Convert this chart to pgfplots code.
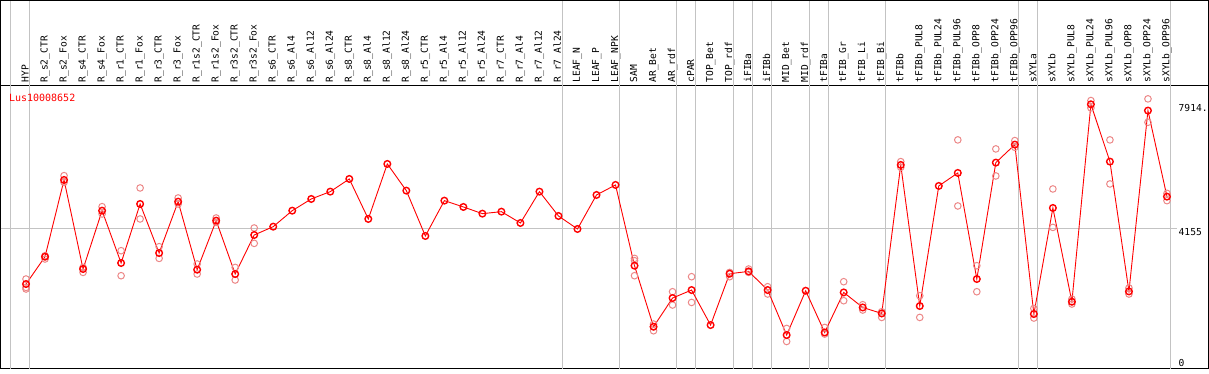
\documentclass[border=0pt]{standalone}
\usepackage{fontspec}
\setmainfont{DejaVu Sans Mono}
\usepackage{pgfplots}
\usepackage{pgfplotstable}
\pgfplotsset{compat=1.18}
\definecolor{repred}{RGB}{236,136,136}
\definecolor{gridgray}{RGB}{195,195,195}

\pgfplotstableread{
x y
0 2495
1 3319
2 5634
3 2948
4 4707
5 3129
6 4909
7 3431
8 4979
9 2927
10 4406
11 2797
12 3974
13 4225
14 4707
15 5060
16 5281
17 5664
18 4457
19 6116
20 5311
21 3944
22 5009
23 4819
24 4617
25 4677
26 4336
27 5281
28 4547
29 4155
30 5181
31 5483
32 3048
33 1207
34 2073
35 2314
36 1258
37 2806
38 2876
39 2314
40 957
41 2293
42 1035
43 2242
44 1789
45 1608
46 6086
47 1832
48 5453
49 5845
50 2646
51 6156
52 6699
53 1590
54 4789
55 1961
56 7914
57 6186
58 2272
59 7725
60 5130
}\means

\pgfplotstableread{
x y
0 2646
0 2393
0 2345
1 3349
1 3250
2 5763
2 5561
3 2996
3 2846
4 4828
4 4608
5 3500
5 2746
6 5392
6 4457
7 3621
7 3268
8 5090
8 4909
9 3099
9 2797
10 4487
10 4354
11 2996
11 2616
12 4185
12 3721
32 3268
32 3199
32 2746
33 1288
33 1086
34 2263
34 1862
35 2716
35 1940
37 2846
37 2716
38 2948
38 2846
39 2414
39 2194
40 1156
40 763
42 1186
42 987
43 2565
43 1992
44 1871
44 1711
45 1660
45 1488
46 6186
46 6014
47 2142
47 1488
49 6841
49 4849
50 3048
50 2263
51 6569
51 5754
52 6820
52 6617
53 1759
53 1470
54 5362
54 4203
55 2043
55 1892
56 8027
56 7806
57 6841
57 5513
58 2375
58 2194
59 8078
59 7372
60 5229
60 5009
}\reps

\begin{document}
\begin{tikzpicture}
\begin{axis}[
  scale only axis,
  width=1207pt, height=283pt,
  xmin=-1.342, xmax=62.184,
  ymin=-60.35, ymax=8479.2,
  axis line style={black, line width=1pt},
  clip=false,
  major tick length=0pt,
  xtick={0,...,60},
  xticklabel pos=upper,
  xticklabels={HYP,R\_s2\_CTR,R\_s2\_Fox,R\_s4\_CTR,R\_s4\_Fox,R\_r1\_CTR,R\_r1\_Fox,R\_r3\_CTR,R\_r3\_Fox,R\_r1s2\_CTR,R\_r1s2\_Fox,R\_r3s2\_CTR,R\_r3s2\_Fox,R\_s6\_CTR,R\_s6\_Al4,R\_s6\_Al12,R\_s6\_Al24,R\_s8\_CTR,R\_s8\_Al4,R\_s8\_Al12,R\_s8\_Al24,R\_r5\_CTR,R\_r5\_Al4,R\_r5\_Al12,R\_r5\_Al24,R\_r7\_CTR,R\_r7\_Al4,R\_r7\_Al12,R\_r7\_Al24,LEAF\_N,LEAF\_P,LEAF\_NPK,SAM,AR\_Bet,AR\_rdf,cPAR,TOP\_Bet,TOP\_rdf,iFIBa,iFIBb,MID\_Bet,MID\_rdf,tFIBa,tFIB\_Gr,tFIB\_Li,tFIB\_Bi,tFIBb,tFIBb\_PUL8,tFIBb\_PUL24,tFIBb\_PUL96,tFIBb\_OPP8,tFIBb\_OPP24,tFIBb\_OPP96,sXYLa,sXYLb,sXYLb\_PUL8,sXYLb\_PUL24,sXYLb\_PUL96,sXYLb\_OPP8,sXYLb\_OPP24,sXYLb\_OPP96},
  xticklabel style={rotate=90, anchor=west, inner xsep=3pt, inner ysep=0pt,
    text height=7pt, text depth=2pt, font=\fontsize{9.6}{10}\selectfont},
  ytick={0,4155,7914},
  yticklabels={\raisebox{7pt}{0},4155,7914.},
  yticklabel pos=right,
  yticklabel style={anchor=base west, inner sep=0pt, xshift=-30pt, yshift=-7pt,
    font=\fontsize{9.6}{10}\selectfont},
]
% group separators
\pgfplotsinvokeforeach{-0.8,0.2,28.2,31.2,34.2,35.2,37.2,38.2,39.2,41.2,42.2,45.2,52.2,53.2,60.2}{
  \draw[gridgray, line width=1pt] (axis cs:#1,-60.35) -- (axis cs:#1,11044);
}
\draw[gridgray, line width=1pt] (axis cs:-1.342,4155) -- (axis cs:60.55,4155);
% header frame
\draw[black, line width=1pt] (rel axis cs:0,1) -- (axis cs:-1.342,11044) -- (axis cs:62.184,11044) -- (rel axis cs:1,1);
% replicates
\addplot[only marks, mark=o, mark size=3.3pt, color=repred, mark options={line width=1pt}] table[x=x,y=y] {\reps};
% means
\addplot[red, line width=0.9pt, mark=o, mark size=3.3pt, mark options={line width=1.4pt, red}] table[x=x,y=y] {\means};
\node[anchor=west, inner sep=0pt, text=red, font=\fontsize{10}{10}\selectfont] at (axis cs:-0.905,8117) {Lus10008652};
\end{axis}
\end{tikzpicture}
\end{document}
